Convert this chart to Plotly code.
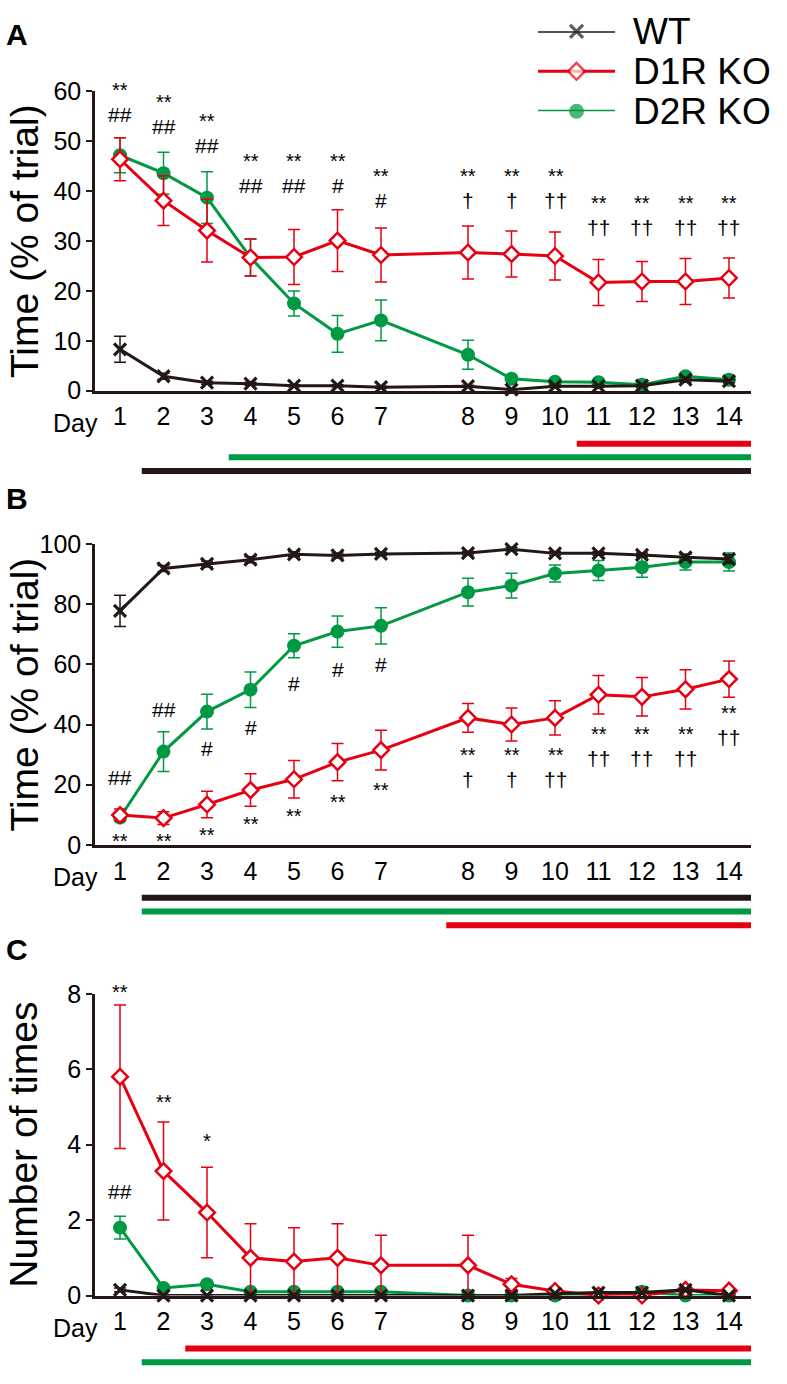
import plotly.graph_objects as go

# page: 787x1384 viewport (the page body margin is reset to 0 after plotting)
W, H = 787, 1384
FONT = "Liberation Sans, Arial, Helvetica, sans-serif"
BLACK, RED, GREEN = "#231815", "#E60012", "#009944"

# ---------------- data ----------------
DAYS = list(range(1, 15))
DAY_LABELS = [str(d) for d in DAYS]
GROUPS = ["WT", "D1R KO", "D2R KO"]

# Panel A: Time (% of trial)
A_WT = [8.3, 2.9, 1.6, 1.4, 1.0, 1.0, 0.7, 0.9, 0.2, 0.9, 0.9, 1.0, 2.2, 1.9]
A_WT_SEM = [2.6, 0.6, 0.3, 0.3, 0.2, 0.2, 0.2, 0.2, 0.1, 0.2, 0.2, 0.2, 0.5, 0.3]
A_D1R = [46.4, 38.1, 32.1, 26.7, 26.8, 30.1, 27.2, 27.7, 27.4, 27.0, 21.7, 21.9, 21.9, 22.6]
A_D1R_SEM = [4.3, 5.0, 6.3, 3.7, 5.5, 6.2, 5.4, 5.3, 4.6, 4.8, 4.6, 4.0, 4.6, 4.0]
A_D2R = [47.2, 43.6, 38.7, 26.7, 17.5, 11.4, 14.1, 7.2, 2.4, 1.8, 1.7, 1.2, 2.9, 2.2]
A_D2R_SEM = [3.5, 4.2, 5.2, 3.7, 2.5, 3.7, 4.1, 2.9, 0.5, 0.4, 0.5, 0.3, 0.6, 0.4]

# Panel B: Time (% of trial)
B_WT = [77.8, 91.9, 93.4, 94.8, 96.6, 96.2, 96.7, 97.0, 98.3, 96.9, 96.9, 96.4, 95.6, 95.0]
B_WT_SEM = [5.2, 1.0, 1.0, 1.0, 0.8, 0.8, 0.6, 0.6, 0.6, 0.6, 0.6, 0.6, 1.0, 1.5]
B_D1R = [9.9, 8.9, 13.4, 18.2, 21.8, 27.5, 31.5, 42.2, 40.0, 42.2, 49.9, 49.2, 51.7, 55.1]
B_D1R_SEM = [2.0, 2.1, 4.4, 5.4, 6.2, 6.2, 6.6, 4.8, 5.5, 5.7, 6.4, 6.4, 6.5, 6.0]
B_D2R = [9.1, 31.0, 44.3, 51.6, 66.2, 70.9, 72.8, 84.0, 86.2, 90.2, 91.2, 92.3, 94.0, 94.0]
B_D2R_SEM = [1.0, 6.6, 5.8, 5.9, 4.0, 5.2, 6.0, 4.6, 4.1, 2.8, 3.3, 3.3, 2.6, 3.0]

# Panel C: Number of times
C_WT = [0.15, 0, 0, 0, 0, 0, 0, 0, 0, 0.05, 0.08, 0.08, 0.15, 0]
C_WT_SEM = [0.05, 0, 0, 0, 0, 0, 0, 0, 0, 0, 0, 0, 0.05, 0]
C_D1R = [5.8, 3.3, 2.2, 1.0, 0.9, 1.0, 0.8, 0.8, 0.3, 0.12, 0.0, 0.0, 0.15, 0.13]
C_D1R_SEM = [1.9, 1.3, 1.2, 0.9, 0.9, 0.9, 0.8, 0.8, 0.15, 0.05, 0, 0, 0.05, 0.05]
C_D2R = [1.8, 0.2, 0.3, 0.1, 0.1, 0.1, 0.1, 0, 0, 0, 0, 0.1, 0, 0]
C_D2R_SEM = [0.3, 0.05, 0.08, 0, 0, 0, 0, 0, 0, 0, 0, 0, 0, 0]

# significance labels: (day, upper symbol or "", lower symbol, y value of lower symbol)
A_MARKS = [(1, "**", "##", 55.3), (2, "**", "##", 52.9), (3, "**", "##", 49.2),
           (4, "**", "##", 41.1), (5, "**", "##", 41.1), (6, "**", "#", 41.1),
           (7, "**", "#", 38.2), (8, "**", "†", 38.2), (9, "**", "†", 38.2),
           (10, "**", "††", 38.2), (11, "**", "††", 32.7), (12, "**", "††", 32.7),
           (13, "**", "††", 32.7), (14, "**", "††", 32.7)]
B_MARKS = [(1, "", "##", 22.3), (2, "", "##", 45.1), (3, "", "#", 31.9), (4, "", "#", 38.9),
           (5, "", "#", 53.6), (6, "", "#", 58.4), (7, "", "#", 60.1),
           (1, "", "**", 2.6), (2, "", "**", 2.6), (3, "", "**", 4.5), (4, "", "**", 8.2),
           (5, "", "**", 11.0), (6, "", "**", 15.6), (7, "", "**", 19.6),
           (8, "**", "†", 21.6), (9, "**", "†", 21.6), (10, "**", "††", 21.6),
           (11, "**", "††", 28.6), (12, "**", "††", 28.6), (13, "**", "††", 28.6),
           (14, "**", "††", 35.7)]
C_MARKS = [(1, "", "**", 8.15), (1, "", "##", 2.75), (2, "", "**", 5.25), (3, "", "*", 4.2)]

# horizontal significance bars: (group, start position on x axis)
A_BARS = [("D1R KO", 11.5), ("D2R KO", 3.5), ("WT", 1.5)]
B_BARS = [("WT", 1.5), ("D2R KO", 1.5), ("D1R KO", 8.5)]
C_BARS = [("D1R KO", 2.5), ("D2R KO", 1.5)]

# ---------------- helpers ----------------
COLORS = {"WT": BLACK, "D1R KO": RED, "D2R KO": GREEN}
MARKER = {
    "WT": dict(symbol="x-thin", size=12, color=BLACK, line=dict(width=3.2, color=BLACK)),
    "D1R KO": dict(symbol="diamond", size=12, color="white", line=dict(width=2.5, color=RED)),
    "D2R KO": dict(symbol="circle", size=14, color=GREEN, line=dict(width=0)),
}


def pos(d):
    return d if d <= 7 else d + 1


def px_x(px):
    return px / W


def px_y(px):
    return 1 - px / H


XPOS = [pos(d) for d in DAYS]
X_LEFT, X_RIGHT = 95, 751
XRANGE = [0.425, 15.506]

PANELS = [
    dict(letter="A", top=79, bottom=384.5, yr=[0, 60], dtick=10, title="Time (% of trial)",
         data={"WT": (A_WT, A_WT_SEM), "D1R KO": (A_D1R, A_D1R_SEM), "D2R KO": (A_D2R, A_D2R_SEM)},
         marks=A_MARKS, bars=A_BARS, letter_y=21),
    dict(letter="B", top=541, bottom=848, yr=[0, 100], dtick=20, title="Time (% of trial)",
         data={"WT": (B_WT, B_WT_SEM), "D1R KO": (B_D1R, B_D1R_SEM), "D2R KO": (B_D2R, B_D2R_SEM)},
         marks=B_MARKS, bars=B_BARS, letter_y=494),
    dict(letter="C", top=1000, bottom=1308, yr=[0, 8], dtick=2, title="Number of times",
         data={"WT": (C_WT, C_WT_SEM), "D1R KO": (C_D1R, C_D1R_SEM), "D2R KO": (C_D2R, C_D2R_SEM)},
         marks=C_MARKS, bars=C_BARS, letter_y=955),
]

fig = go.Figure()
annotations, shapes = [], []
layout = {}
TICKFONT = dict(family=FONT, size=25, color="black")
BASE = 19          # base font of the significance labels (sets the line spacing)


def sym(t):
    size = 20 if "*" in t else 21
    return '<span style="font-size:%dpx">%s</span>' % (size, t)


for i, p in enumerate(PANELS):
    n = "" if i == 0 else str(i + 1)
    xa, ya = "x" + n, "y" + n
    y0p, y1p = px_y(p["bottom"]), px_y(p["top"])

    def to_paper(v, p=p, y0p=y0p, y1p=y1p):
        r0, r1 = p["yr"]
        return y0p + (v - r0) / (r1 - r0) * (y1p - y0p)

    for g in ["D2R KO", "D1R KO", "WT"]:
        vals, sem = p["data"][g]
        fig.add_trace(go.Scatter(
            x=XPOS, y=vals, xaxis=xa, yaxis=ya, mode="lines+markers", name=g,
            showlegend=False, cliponaxis=False,
            line=dict(color=COLORS[g], width=3),
            marker=MARKER[g],
            error_y=dict(type="data", array=sem, visible=True, color=COLORS[g],
                         thickness=1.5, width=6),
        ))
    layout["xaxis" + n] = dict(
        domain=[px_x(X_LEFT), px_x(X_RIGHT)], range=XRANGE, anchor=ya,
        tickvals=XPOS, ticktext=DAY_LABELS, ticks="", showgrid=False, zeroline=False,
        showline=True, linecolor=BLACK, linewidth=2.5, ticklabelstandoff=2,
        tickfont=TICKFONT, fixedrange=True)
    layout["yaxis" + n] = dict(
        domain=[y0p, y1p], range=p["yr"], dtick=p["dtick"], anchor=xa,
        ticks="outside", ticklen=6, tickwidth=2, tickcolor=BLACK, showgrid=False, zeroline=False,
        showline=True, linecolor=BLACK, linewidth=2.5,
        tickfont=TICKFONT, fixedrange=True)
    # significance labels
    for d, top, bot, yv in p["marks"]:
        if top:
            text = sym(top) + "<br>" + sym(bot)
            shift = 12
        else:
            text = sym(bot)
            shift = -4 if "*" in bot else 0
        annotations.append(dict(x=pos(d), y=to_paper(yv), xref=xa, yref="paper", text=text,
                                showarrow=False, xanchor="center", yanchor="middle", yshift=shift,
                                font=dict(family=FONT, size=BASE, color="black")))
    # y title
    annotations.append(dict(x=px_x(24), y=px_y((p["top"] + p["bottom"]) / 2), xref="paper", yref="paper",
                            text=p["title"], textangle=-90, showarrow=False,
                            font=dict(family=FONT, size=39, color="black"),
                            xanchor="center", yanchor="middle"))
    # Day label
    annotations.append(dict(x=px_x(75), y=px_y(p["bottom"] + 33), xref="paper", yref="paper",
                            text="Day", showarrow=False, xanchor="center", yanchor="middle",
                            font=dict(family=FONT, size=25, color="black")))
    # panel letter
    annotations.append(dict(x=px_x(17), y=px_y(p["letter_y"]), xref="paper", yref="paper",
                            text="<b>%s</b>" % p["letter"], showarrow=False,
                            xanchor="center", yanchor="middle",
                            font=dict(family=FONT, size=30, color="black")))
    # significance bars
    for k, (g, start) in enumerate(p["bars"]):
        yb = px_y(p["bottom"] + 54 + 14 * k)
        shapes.append(dict(type="line", xref=xa, yref="paper", x0=start, x1=XRANGE[1],
                           y0=yb, y1=yb, line=dict(color=COLORS[g], width=6)))

# ---------------- custom legend (top right) ----------------
LEG_TOP, LEG_BOTTOM = 17.7, 99.3
layout["xaxis4"] = dict(domain=[px_x(538), px_x(615)], range=[0, 1], visible=False,
                        anchor="y4", fixedrange=True)
layout["yaxis4"] = dict(domain=[px_y(LEG_BOTTOM), px_y(LEG_TOP)], range=[0, 2], visible=False,
                        anchor="x4", fixedrange=True)
LEG_MARKER = {
    "WT": dict(symbol="x-thin", size=13, color=BLACK, line=dict(width=3.2, color=BLACK)),
    "D1R KO": dict(symbol="diamond", size=13, color="white", line=dict(width=2.5, color=RED)),
    "D2R KO": dict(symbol="circle", size=15, color=GREEN, line=dict(width=0)),
}
for r, g in enumerate(GROUPS):
    row = 2 - r
    fig.add_trace(go.Scatter(x=[0, 0.5, 1], y=[row] * 3, xaxis="x4", yaxis="y4",
                             mode="lines+markers", showlegend=False, cliponaxis=False,
                             line=dict(color=COLORS[g], width=3),
                             marker=dict(LEG_MARKER[g], size=[0, LEG_MARKER[g]["size"], 0]),
                             hoverinfo="skip"))
    annotations.append(dict(x=1.0, y=row, xref="x4", yref="y4", xshift=16,
                            text=g, showarrow=False, xanchor="left", yanchor="middle",
                            font=dict(family=FONT, size=37, color="black")))

fig.update_layout(
    width=W, height=H, margin=dict(l=0, r=0, t=0, b=0),
    paper_bgcolor="white", plot_bgcolor="white",
    showlegend=False, annotations=annotations, shapes=shapes,
    **layout,
)

fig.write_html("out.html", config={"displayModeBar": False},
               post_script="document.body.style.margin='0px';")
